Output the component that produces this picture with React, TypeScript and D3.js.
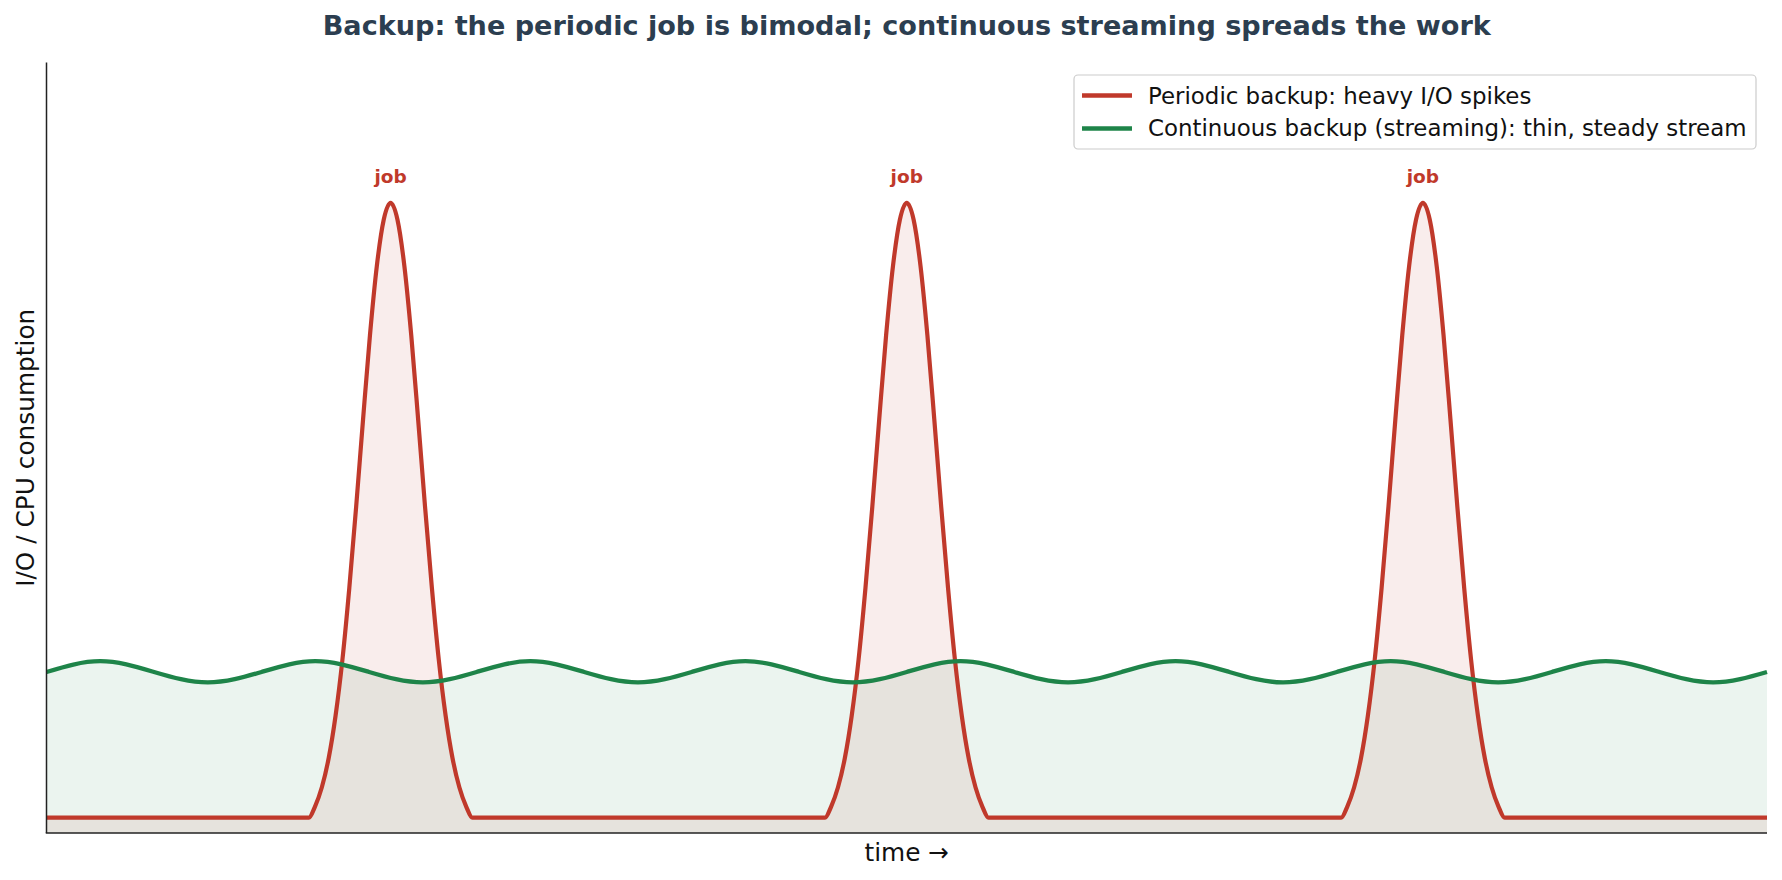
import React from 'react';
import * as d3 from 'd3';

// x runs over 10 time units, y is a relative load level
const jobCenters = [2, 5, 8];
const jobLabel = 'job';
const idleLevel = 0.2;

// one half of a job spike: distance from the job centre -> load
const spikeOffsets = [0, 0.04, 0.08, 0.12, 0.16, 0.2, 0.24, 0.28, 0.32, 0.36, 0.4, 0.44, 0.475];
const spikeLevels = [8.18, 7.96, 7.36, 6.46, 5.37, 4.24, 3.18, 2.25, 1.52, 0.97, 0.59, 0.34, 0.2];

// continuous stream, sampled every quarter wave (wave length 1.25)
const streamStep = 0.3125;
const streamLevels = [
  2.09, 2.23, 2.09, 1.955, 2.09, 2.23, 2.09, 1.955,
  2.09, 2.23, 2.09, 1.955, 2.09, 2.23, 2.09, 1.955,
  2.09, 2.23, 2.09, 1.955, 2.09, 2.23, 2.09, 1.955,
  2.09, 2.23, 2.09, 1.955, 2.09, 2.23, 2.09, 1.955,
  2.09,
];

const legendLabels = [
  'Periodic backup: heavy I/O spikes',
  'Continuous backup (streaming): thin, steady stream',
];

const RED = '#c0392b';
const GREEN = '#1e8449';
const FONT = '"DejaVu Sans", sans-serif';

const W = 1782;
const H = 880;
const plot = { left: 46.5, right: 1767, top: 62.5, bottom: 833 };

type Pt = [number, number];

const periodicPoints: Pt[] = (() => {
  const pts: Pt[] = [[0, idleLevel]];
  jobCenters.forEach((c) => {
    for (let i = spikeOffsets.length - 1; i > 0; i--) pts.push([c - spikeOffsets[i], spikeLevels[i]]);
    pts.push([c, spikeLevels[0]]);
    for (let i = 1; i < spikeOffsets.length; i++) pts.push([c + spikeOffsets[i], spikeLevels[i]]);
  });
  pts.push([10, idleLevel]);
  return pts;
})();

const streamPoints: Pt[] = streamLevels.map((v, i) => [i * streamStep, v]);

export default function App() {
  const x = d3.scaleLinear().domain([0, 10]).range([plot.left, plot.right]);
  const y = d3.scaleLinear().domain([0, 10]).range([plot.bottom, plot.top]);

  const redLine = d3.line<Pt>().x((d) => x(d[0])).y((d) => y(d[1])).curve(d3.curveMonotoneX);
  const redArea = d3.area<Pt>().x((d) => x(d[0])).y0(y(0)).y1((d) => y(d[1])).curve(d3.curveMonotoneX);
  const greenLine = d3.line<Pt>().x((d) => x(d[0])).y((d) => y(d[1])).curve(d3.curveNatural);
  const greenArea = d3.area<Pt>().x((d) => x(d[0])).y0(y(0)).y1((d) => y(d[1])).curve(d3.curveNatural);

  const cx = (plot.left + plot.right) / 2;
  const lg = { x: 1074, y: 75, w: 682, h: 74 };
  const rows = [95.5, 128.4];

  return (
    <svg
      width={W}
      height={H}
      viewBox={`0 0 ${W} ${H}`}
      style={{ position: 'absolute', left: 0, top: 0, background: '#fff' }}
      fontFamily={FONT}
    >
      <rect width={W} height={H} fill="#fff" />

      <text x={cx} y={25} textAnchor="middle" dominantBaseline="central" fontSize={27.1} fontWeight="bold" fill="#2c3e50">
        Backup: the periodic job is bimodal; continuous streaming spreads the work
      </text>

      {/* filled areas */}
      <path d={greenArea(streamPoints) || ''} fill={GREEN} fillOpacity={0.09} />
      <path d={redArea(periodicPoints) || ''} fill={RED} fillOpacity={0.09} />

      {/* lines: stream drawn over the job spikes */}
      <path d={redLine(periodicPoints) || ''} fill="none" stroke={RED} strokeWidth={4.2} strokeLinejoin="round" />
      <path d={greenLine(streamPoints) || ''} fill="none" stroke={GREEN} strokeWidth={4.3} strokeLinejoin="round" />

      {jobCenters.map((c) => (
        <text key={c} x={x(c)} y={176} textAnchor="middle" dominantBaseline="central" fontSize={18.5} fontWeight="bold" fill={RED}>
          {jobLabel}
        </text>
      ))}

      {/* spines */}
      <line x1={plot.left} x2={plot.left} y1={plot.top} y2={plot.bottom} stroke="#222" strokeWidth={1.5} />
      <line x1={plot.left - 0.75} x2={plot.right} y1={plot.bottom} y2={plot.bottom} stroke="#222" strokeWidth={1.5} />

      <text x={cx} y={852} textAnchor="middle" dominantBaseline="central" fontSize={24.8} fill="#111">
        time →
      </text>
      <text
        transform={`translate(25, ${(plot.top + plot.bottom) / 2}) rotate(-90)`}
        textAnchor="middle"
        dominantBaseline="central"
        fontSize={24.8}
        fill="#111"
      >
        I/O / CPU consumption
      </text>

      {/* legend */}
      <rect x={lg.x} y={lg.y} width={lg.w} height={lg.h} rx={4} fill="#fff" fillOpacity={0.8} stroke="#ccc" strokeWidth={1.2} />
      {legendLabels.map((label, i) => (
        <g key={label}>
          <line x1={1082} x2={1132} y1={rows[i]} y2={rows[i]} stroke={i === 0 ? RED : GREEN} strokeWidth={4.5} />
          <text x={1148} y={rows[i]} dominantBaseline="central" fontSize={22.9} fill="#111">
            {label}
          </text>
        </g>
      ))}
    </svg>
  );
}
